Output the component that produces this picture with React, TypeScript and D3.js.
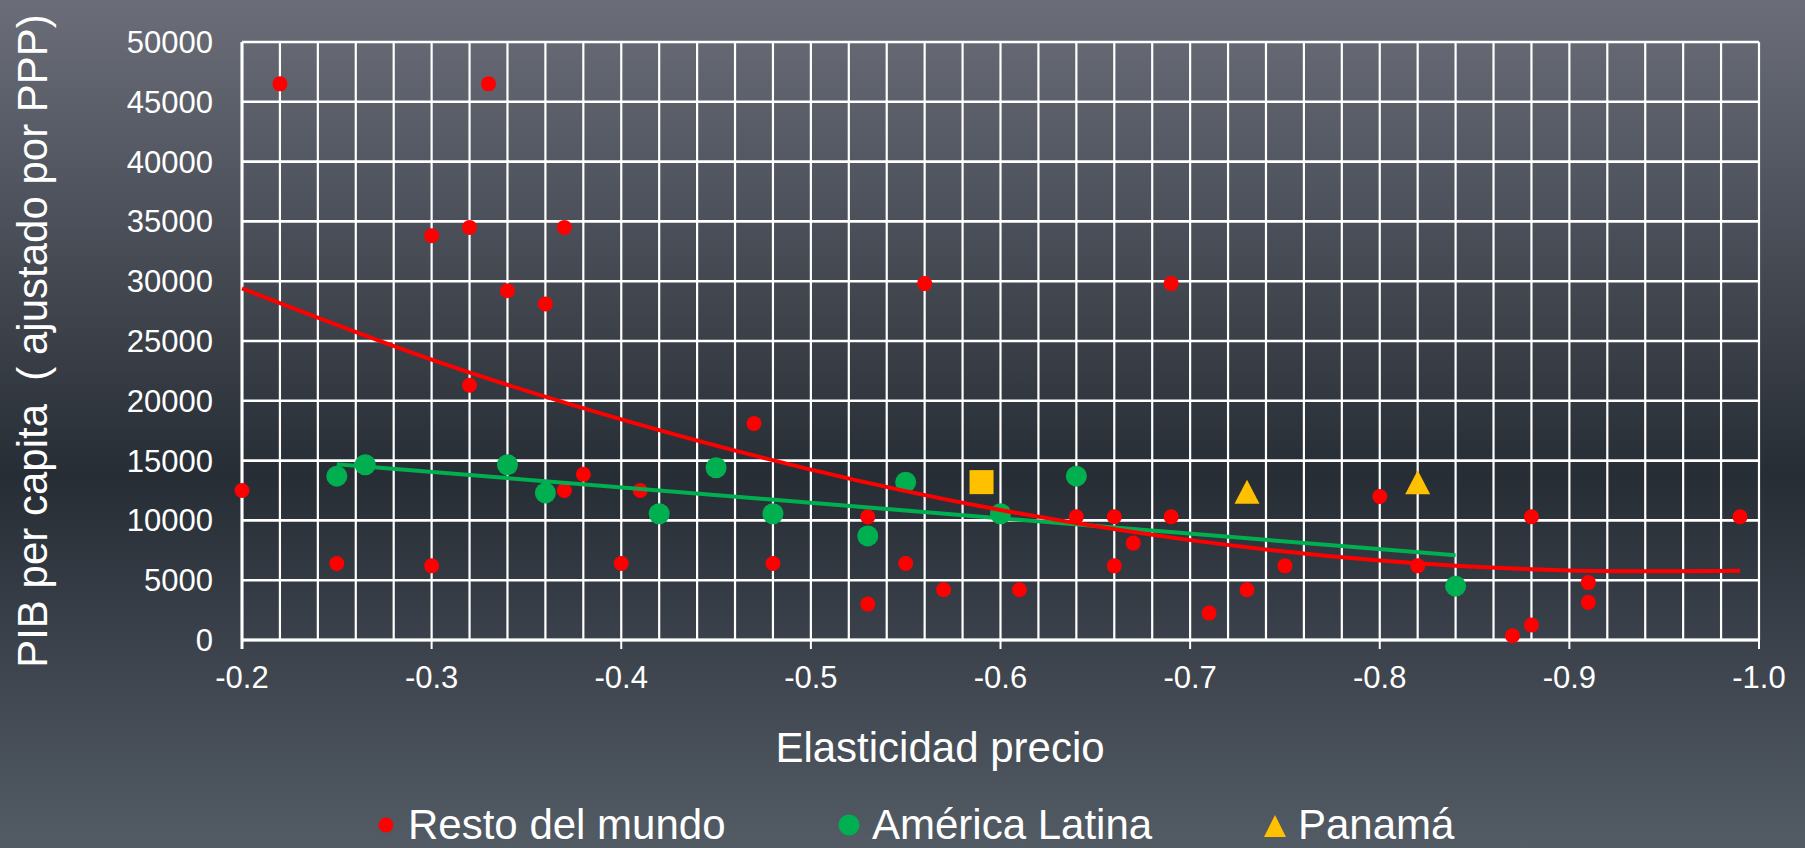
import React from 'react';
import * as d3 from 'd3';

// Resto del mundo (red)
const restoX = [-0.22, -0.33, -0.3, -0.32, -0.37, -0.34, -0.36, -0.32, -0.56, -0.69, -0.2, -0.25, -0.3, -0.37, -0.38, -0.41, -0.4, -0.47, -0.48, -0.53, -0.53, -0.55, -0.57, -0.61, -0.64, -0.66, -0.66, -0.67, -0.69, -0.71, -0.73, -0.75, -0.8, -0.82, -0.87, -0.88, -0.88, -0.91, -0.91, -0.99];
const restoY = [46500, 46500, 33800, 34500, 34500, 29200, 28100, 21300, 29800, 29800, 12500, 6400, 6200, 12500, 13850, 12500, 6400, 18100, 6400, 10300, 3000, 6400, 4200, 4200, 10300, 10300, 6200, 8100, 10300, 2250, 4200, 6200, 12000, 6200, 350, 1250, 10300, 4800, 3150, 10300];

// América Latina (green)
const latamX = [-0.25, -0.265, -0.34, -0.36, -0.42, -0.45, -0.48, -0.53, -0.55, -0.6, -0.64, -0.84];
const latamY = [13700, 14650, 14650, 12300, 10560, 14400, 10560, 8700, 13200, 10560, 13700, 4500];

// Panamá (yellow)
const panamaSquareX = [-0.59];
const panamaSquareY = [13200];
const panamaTriX = [-0.73, -0.82];
const panamaTriY = [12400, 13200];

// trendlines
const redTrendX = [-0.2, -0.3, -0.4, -0.5, -0.6, -0.7, -0.8, -0.9, -0.99];
const redTrendY = [29400, 23450, 18450, 14250, 10870, 8350, 6650, 5820, 5790];
const greenTrendX = [-0.25, -0.84];
const greenTrendY = [14700, 7080];

const yTicks = [0, 5000, 10000, 15000, 20000, 25000, 30000, 35000, 40000, 45000, 50000];
const xTicks = [-0.2, -0.3, -0.4, -0.5, -0.6, -0.7, -0.8, -0.9, -1.0];
const xTickLabels = ['-0.2', '-0.3', '-0.4', '-0.5', '-0.6', '-0.7', '-0.8', '-0.9', '-1.0'];

const legendItems = ['Resto del mundo', 'América Latina', 'Panamá'];

const RED = '#FF0000';
const GREEN = '#00B050';
const YELLOW = '#FFC000';
const FONT = '"Liberation Sans", Arial, sans-serif';

const triPath = (w: number, h: number) => `M0,${-h / 2}L${w / 2},${h / 2}L${-w / 2},${h / 2}Z`;

const App: React.FC = () => {
  const width = 1805;
  const height = 848;
  const margin = { top: 42, right: 46, bottom: 208, left: 242 };
  const plotRight = width - margin.right;
  const plotBottom = height - margin.bottom;

  const x = d3.scaleLinear().domain([-0.2, -1.0]).range([margin.left, plotRight]);
  const y = d3.scaleLinear().domain([0, 50000]).range([plotBottom, margin.top]);

  const minorX = d3.range(0, 41).map(i => -0.2 - i * 0.02);

  const redTrend = d3.line<[number, number]>()
    .x(d => x(d[0]))
    .y(d => y(d[1]))
    .curve(d3.curveNatural)(redTrendX.map((v, i) => [v, redTrendY[i]] as [number, number])) || '';
  const greenTrend = d3.line<[number, number]>()
    .x(d => x(d[0]))
    .y(d => y(d[1]))(greenTrendX.map((v, i) => [v, greenTrendY[i]] as [number, number])) || '';

  const legendBase = 839;

  return (
    <svg width={width} height={height} style={{ position: 'absolute', left: 0, top: 0, display: 'block' }} fontFamily={FONT}>
      <defs>
        <linearGradient id="bg" x1="0" y1="0" x2="0" y2="1">
          <stop offset="0" stopColor="#6b6e79" />
          <stop offset="0.56" stopColor="#272d35" />
          <stop offset="1" stopColor="#535b65" />
        </linearGradient>
      </defs>
      <rect x={0} y={0} width={width} height={height} fill="url(#bg)" />

      {/* grid */}
      {minorX.map((v, i) => (
        <line key={`vx${i}`} x1={x(v)} x2={x(v)} y1={margin.top} y2={plotBottom} stroke="#fff" strokeWidth={2.2} />
      ))}
      {yTicks.map(v => (
        <line key={`hy${v}`} x1={margin.left} x2={plotRight} y1={y(v)} y2={y(v)} stroke="#fff" strokeWidth={2.6} />
      ))}
      {/* axes */}
      <line x1={margin.left} x2={margin.left} y1={margin.top} y2={plotBottom + 9} stroke="#fff" strokeWidth={3} />
      <line x1={margin.left} x2={plotRight} y1={plotBottom} y2={plotBottom} stroke="#fff" strokeWidth={3} />
      {xTicks.map((v, i) => (
        <line key={`xt${i}`} x1={x(v)} x2={x(v)} y1={plotBottom} y2={plotBottom + 9} stroke="#fff" strokeWidth={2} />
      ))}

      {/* tick labels */}
      {yTicks.map(v => (
        <text key={`yl${v}`} x={213} y={y(v) + 11} textAnchor="end" fontSize={31} fill="#fff">{v}</text>
      ))}
      {xTicks.map((v, i) => (
        <text key={`xl${i}`} x={x(v)} y={688} textAnchor="middle" fontSize={31} fill="#fff">{xTickLabels[i]}</text>
      ))}

      {/* axis titles */}
      <text transform={`translate(47,${(margin.top + plotBottom) / 2}) rotate(-90)`} textAnchor="middle" fontSize={42} fill="#fff" style={{ whiteSpace: 'pre' }}>
        {'PIB per capita  ( ajustado por PPP)'}
      </text>
      <text x={940} y={762} textAnchor="middle" fontSize={42} fill="#fff">Elasticidad precio</text>

      {/* markers */}
      {restoX.map((v, i) => (
        <circle key={`r${i}`} cx={x(v)} cy={y(restoY[i])} r={7.5} fill={RED} />
      ))}
      {latamX.map((v, i) => (
        <circle key={`g${i}`} cx={x(v)} cy={y(latamY[i])} r={10.5} fill={GREEN} />
      ))}
      {panamaSquareX.map((v, i) => (
        <rect key={`ps${i}`} x={x(v) - 12} y={y(panamaSquareY[i]) - 12} width={24} height={24} fill={YELLOW} />
      ))}
      {panamaTriX.map((v, i) => (
        <path key={`pt${i}`} transform={`translate(${x(v)},${y(panamaTriY[i])})`} d={triPath(25, 24)} fill={YELLOW} />
      ))}

      {/* trendlines */}
      <path d={greenTrend} fill="none" stroke={GREEN} strokeWidth={4} />
      <path d={redTrend} fill="none" stroke={RED} strokeWidth={4} />

      {/* legend */}
      <g fontSize={42} fill="#fff">
        <circle cx={386} cy={legendBase - 14} r={7.5} fill={RED} />
        <text x={408} y={legendBase}>{legendItems[0]}</text>
        <circle cx={849} cy={legendBase - 14} r={10.5} fill={GREEN} />
        <text x={872} y={legendBase}>{legendItems[1]}</text>
        <path transform={`translate(1275,${legendBase - 13})`} d={triPath(22, 22)} fill={YELLOW} />
        <text x={1298} y={legendBase}>{legendItems[2]}</text>
      </g>
    </svg>
  );
};

export default App;
